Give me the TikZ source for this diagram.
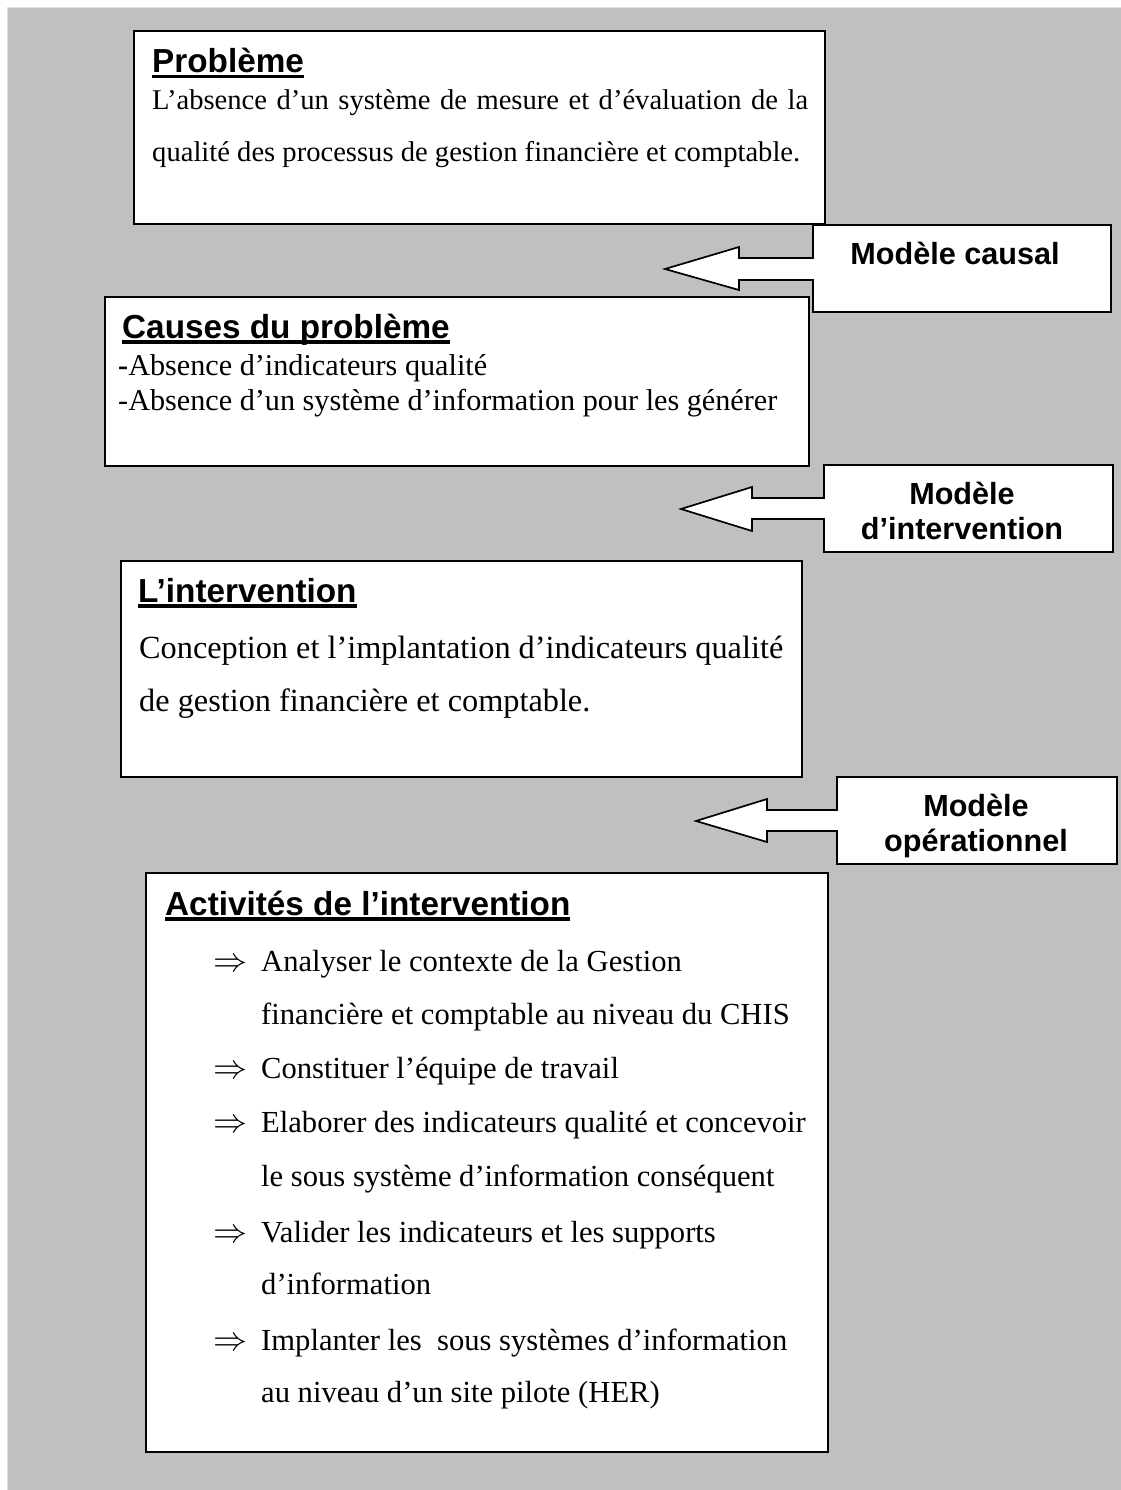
\documentclass[tikz,border=0pt]{standalone}
\usepackage{fontspec}
\setmainfont{Liberation Serif}
\newfontfamily\arialf{Liberation Sans}
\definecolor{pagegray}{RGB}{192,192,192}
\definecolor{edgegreen}{RGB}{200,240,200}
% bold heading with a heavy underline
\newcommand\ulhead[1]{\setbox0=\hbox{#1}\leavevmode\rlap{\rule[-5.5pt]{\wd0}{3.4pt}}\box0}
% implication arrow used as list bullet
\newcommand\impl{\resizebox{34pt}{!}{$\Rightarrow$}}
\tikzset{
  box/.style={draw=black, fill=white, line width=1.7pt, inner sep=0pt, anchor=north west},
  callout/.style={draw=black, fill=white, line width=1.7pt, line join=miter},
  txt/.style={anchor=base west, inner sep=0pt, font=\fontsize{28.6}{34}\selectfont},
  midtxt/.style={anchor=base west, inner sep=0pt, font=\fontsize{30.2}{36}\selectfont},
  acttxt/.style={anchor=base west, inner sep=0pt, font=\fontsize{30.6}{36}\selectfont},
  bigtxt/.style={anchor=base west, inner sep=0pt, font=\fontsize{32.3}{38}\selectfont},
  head/.style={anchor=base west, inner sep=0pt, font=\arialf\bfseries\fontsize{33.3}{38}\selectfont},
  lab/.style={anchor=base, inner sep=0pt, font=\arialf\bfseries\fontsize{30.6}{35}\selectfont},
  arr/.style={anchor=west, inner sep=0pt}
}
\begin{document}
\begin{tikzpicture}[x=1pt,y=-1pt]
\useasboundingbox (0,0) rectangle (1120,1490);
% page background
\fill[white] (-5,-5) rectangle (1125,1495);
\fill[pagegray] (8,8.5) rectangle (1125,1495);
\draw[edgegreen, line width=1.5pt] (7.5,1495) -- (7.5,7.5) -- (1125,7.5);

% ---- Problème ----
\node[box, minimum width=691pt, minimum height=193pt] (prob) at (133,30) {};
\node[head] (probh) at (152,73) {\ulhead{Problème}};
\node[txt] (prob1) at (152,110) {\makebox[656pt][s]{L’absence d’un système de mesure et d’évaluation de la}};
\node[txt] (prob2) at (152,162) {qualité des processus de gestion financière et comptable.};

% ---- Modèle causal ----
\path[callout] (813,225) -- (1111,225) -- (1111,312) -- (813,312) -- (813,280)
  -- (739,280) -- (739,290) -- (665,269) -- (739,247) -- (739,258) -- (813,258) -- cycle;
\node[lab] (mcaus) at (955,264) {Modèle causal};

% ---- Causes du problème ----
\node[box, minimum width=704pt, minimum height=169pt] (caus) at (104,296) {};
\node[head] (caush) at (122,338) {\ulhead{Causes du problème}};
\node[midtxt] (caus1) at (118,375) {{\bfseries -}Absence d’indicateurs qualité};
\node[midtxt] (caus2) at (118,410) {-Absence d’un système d’information pour les générer};

% ---- Modèle d'intervention ----
\path[callout] (824,465) -- (1113,465) -- (1113,552) -- (824,552) -- (824,519)
  -- (752,519) -- (752,531) -- (681,509) -- (752,487) -- (752,498) -- (824,498) -- cycle;
\node[lab] (minta) at (962,504) {Modèle};
\node[lab] (mintb) at (962,539) {d’intervention};

% ---- L'intervention ----
\node[box, minimum width=681pt, minimum height=216pt] (interv) at (120,560) {};
\node[head] (intervh) at (138,602) {\ulhead{L’intervention}};
\node[bigtxt] (interv1) at (139,658) {Conception et l’implantation d’indicateurs qualité};
\node[bigtxt] (interv2) at (139,711) {de gestion financière et comptable.};

% ---- Modèle opérationnel ----
\path[callout] (837,777) -- (1117,777) -- (1117,864) -- (837,864) -- (837,831)
  -- (767,831) -- (767,842) -- (696,821) -- (767,799) -- (767,810) -- (837,810) -- cycle;
\node[lab] (mopa) at (976,816) {Modèle};
\node[lab] (mopb) at (976,851) {opérationnel};

% ---- Activités de l'intervention ----
\node[box, minimum width=682pt, minimum height=579pt] (act) at (145,872) {};
\node[head] (acth) at (165,915) {\ulhead{Activités de l’intervention}};
\node[arr] (a1) at (213,965) {\impl};
\node[acttxt] (t1a) at (261,971) {Analyser le contexte de la Gestion};
\node[acttxt] (t1b) at (261,1024) {financière et comptable au niveau du CHIS};
\node[arr] (a2) at (213,1072) {\impl};
\node[acttxt] (t2a) at (261,1078) {Constituer l’équipe de travail};
\node[arr] (a3) at (213,1126) {\impl};
\node[acttxt] (t3a) at (261,1132) {Elaborer des indicateurs qualité et concevoir};
\node[acttxt] (t3b) at (261,1186) {le sous système d’information conséquent};
\node[arr] (a4) at (213,1236) {\impl};
\node[acttxt] (t4a) at (261,1242) {Valider les indicateurs et les supports};
\node[acttxt] (t4b) at (261,1294) {d’information};
\node[arr] (a5) at (213,1344) {\impl};
\node[acttxt] (t5a) at (261,1350) {Implanter les\ \ sous systèmes d’information};
\node[acttxt] (t5b) at (261,1402) {au niveau d’un site pilote (HER)};
\end{tikzpicture}
\end{document}
